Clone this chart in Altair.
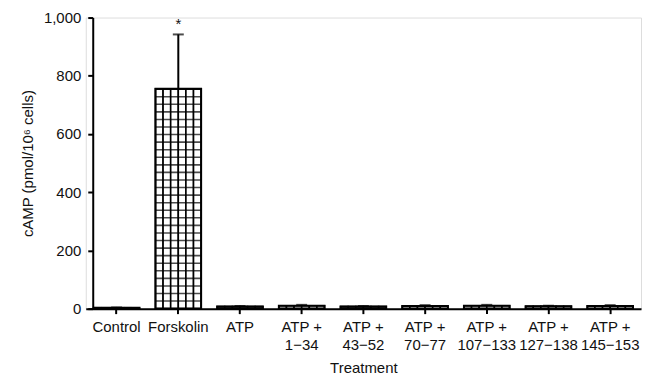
import altair as alt
import pandas as pd

categories = ["Control", "Forskolin", "ATP", "ATP +|1−34", "ATP +|43−52", "ATP +|70−77",
              "ATP +|107−133", "ATP +|127−138", "ATP +|145−153"]
means = [3, 755, 7, 10, 7, 9, 10, 8, 9]
errors = [1, 187, 2, 3, 2, 3, 3, 2, 3]
stars = ["", "*", "", "", "", "", "", "", ""]
columns = [0, 1, 2, 3, 4, 5]

df = pd.DataFrame({"cat": categories, "mean": means, "err": errors, "star": stars})
df["top"] = df["mean"] + df["err"]

cols = pd.DataFrame([{"cat": c, "mean": m, "col": k} for c, m in zip(categories, means) for k in columns])

FONT = "Liberation Sans"
xscale = alt.Scale(paddingInner=0.26, paddingOuter=0.13)
xaxis = alt.Axis(labelExpr="split(datum.label, '|')", labelAngle=0, labelPadding=6,
                 titlePadding=8, labelLineHeight=18)
yscale = alt.Scale(domain=[0, 1000], nice=False)
yaxis = alt.Axis(values=[0, 200, 400, 600, 800, 1000], format=",.0f", offset=-7,
                 labelPadding=7, titlePadding=8)
TITLE_Y = "cAMP (pmol/10⁶ cells)"


def X():
    return alt.X("cat:N", sort=categories, title="Treatment", scale=xscale, axis=xaxis)


def Y(field):
    return alt.Y(field, scale=yscale, title=TITLE_Y, axis=yaxis)


# vertical cell lines (sub-bars)
cells = alt.Chart(cols).mark_bar(fill="white", stroke="black", strokeWidth=1.6).encode(
    x=X(),
    xOffset=alt.XOffset("col:O", scale=alt.Scale(paddingInner=0, paddingOuter=0)),
    y=Y("mean:Q"),
)

# horizontal cell lines
hlines = alt.Chart(df).transform_calculate(
    levels="sequence(0, datum.mean, 26)"
).transform_flatten(["levels"]).mark_tick(
    orient="horizontal", color="black", thickness=1.6, size=46
).encode(x=X(), y=Y("levels:Q"))

outline = alt.Chart(df).mark_bar(fill="transparent", stroke="black", strokeWidth=2).encode(
    x=X(), y=Y("mean:Q"))

errbar = alt.Chart(df).mark_rule(color="black", strokeWidth=2).encode(
    x=X(), y=Y("mean:Q"), y2="top:Q")
cap = alt.Chart(df).mark_tick(orient="horizontal", color="black", thickness=2, size=11).encode(
    x=X(), y=Y("top:Q"))
star = alt.Chart(df).mark_text(dy=-10, fontSize=15, font=FONT, color="#111").encode(
    x=X(), y=Y("top:Q"), text="star:N")

chart = alt.layer(cells, hlines, outline, errbar, cap, star).properties(
    width=557, height=292,
    autosize=alt.AutoSizeParams(type="none"),
    padding={"left": 78, "top": 9, "right": 5, "bottom": 70},
).configure_view(stroke=None).configure(background="white").configure_axis(
    grid=False, labelFontSize=15, labelFont=FONT, labelColor="#111",
    titleFont=FONT, titleFontSize=15, titleFontWeight="normal", titleColor="#111",
    domainColor="black", domainWidth=2, tickColor="black", tickWidth=2, tickSize=5,
)

chart.save("out.html", embed_options={"renderer": "svg", "actions": False})
